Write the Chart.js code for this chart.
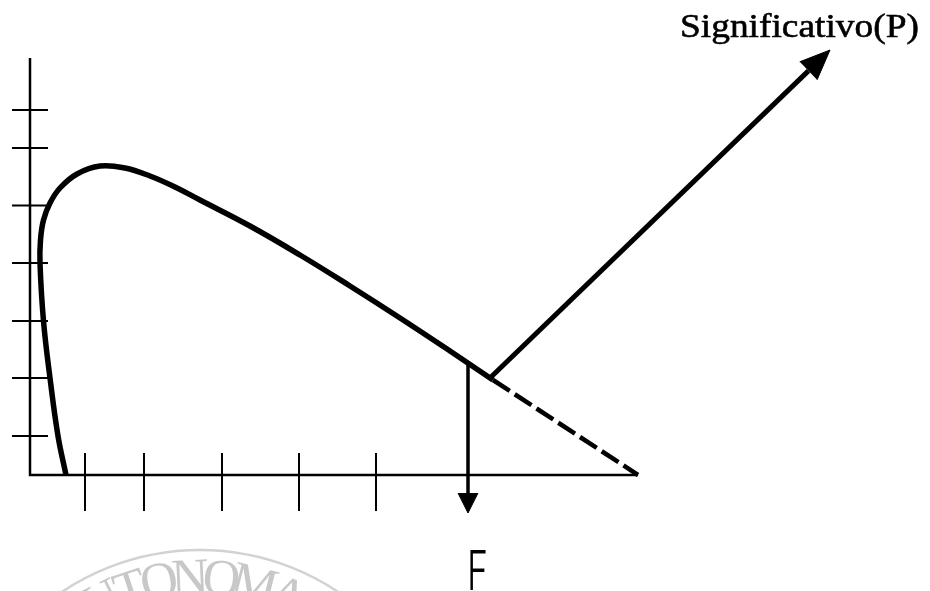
<!DOCTYPE html>
<html>
<head>
<meta charset="utf-8">
<script src="https://cdn.jsdelivr.net/npm/chart.js@4.4.1/dist/chart.umd.min.js"></script>
<style>
  html, body { margin: 0; padding: 0; background: #fff; }
  #wrap { width: 930px; height: 591px; position: relative; }
</style>
</head>
<body>
<div id="wrap"><canvas id="chart"></canvas></div>
<script>
// units: 1 unit = 10 px, origin where the two axes meet
const curveX = [3.6, 2.8, 2.0, 1.35, 1.0, 1.05, 1.35, 2.0, 3.0, 4.7, 7.0, 9.5, 12.0, 14.5, 17.0, 22.0, 27.0, 32.0, 37.0, 42.0, 46.3];
const curveY = [0, 3.9, 9.7, 15.4, 21.2, 23.5, 25.5, 27.2, 28.7, 30.1, 30.9, 30.7, 29.9, 28.8, 27.5, 24.9, 22.0, 18.9, 15.7, 12.4, 9.5];
const tailX = [46.3, 60.8];
const tailY = [9.5, 0];
const yTicks = [3.9, 9.7, 15.4, 21.2, 26.95, 32.7, 36.5];
const xTicks = [5.5, 11.4, 19.2, 26.9, 34.6];
const yAxisTop = 41.7;
const xAxisEnd = 60.8;
const fCritical = 43.8;       // x where the F arrow drops
const fArrowY = [11.3, -3.8]; // from the curve down to the tip
const pArrowFrom = [46.0, 9.7];
const pArrowTo = [80.0, 42.5];
const pLabel = 'Significativo(P)';
const pLabelAt = [65.0, 43.8];
const fLabel = 'F';
const fLabelAt = [43.7, -11.5];
const sealText = 'UTONOMA';
const sealAngles = [-26.5, -18.4, -10.7, -2.6, 5.6, 14.3, 23.5];

const ink = '#000';

const pts = (xs, ys) => xs.map((x, i) => ({ x, y: ys[i] }));

const line = (data, width, extra) => Object.assign({
  data,
  showLine: true,
  borderColor: ink,
  borderWidth: width,
  pointRadius: 0,
  fill: false,
  tension: 0
}, extra || {});

// triangle head, tip at `to`, pointing away from `from`
function head(from, to, len, half) {
  const dx = to[0] - from[0], dy = to[1] - from[1];
  const d = Math.hypot(dx, dy);
  const ux = dx / d, uy = dy / d;
  const bx = to[0] - ux * len, by = to[1] - uy * len;
  return {
    base: [bx, by],
    shape: [
      { x: bx - uy * half, y: by + ux * half },
      { x: to[0], y: to[1] },
      { x: bx + uy * half, y: by - ux * half }
    ]
  };
}

const fHead = head([fCritical, fArrowY[0]], [fCritical, fArrowY[1]], 2.0, 1.0);
const pHead = head(pArrowFrom, pArrowTo, 3.0, 1.25);
const headStyle = { backgroundColor: ink, fill: 'shape', borderWidth: 1 };

const datasets = [
  line([{ x: 0, y: yAxisTop }, { x: 0, y: 0 }, { x: xAxisEnd, y: 0 }], 2.5),
  ...yTicks.map(v => line([{ x: -1.8, y: v }, { x: 1.8, y: v }], 2)),
  ...xTicks.map(v => line([{ x: v, y: 2.2 }, { x: v, y: -3.6 }], 2)),
  line(pts(curveX, curveY), 5.5, { tension: 0.4 }),
  line(pts(tailX, tailY), 4.5, { borderDash: [20, 6] }),
  line([{ x: fCritical, y: fArrowY[0] }, { x: fHead.base[0], y: fHead.base[1] }], 3.5),
  line(fHead.shape, 1, headStyle),
  line([{ x: pArrowFrom[0], y: pArrowFrom[1] }, { x: pHead.base[0], y: pHead.base[1] }], 5),
  line(pHead.shape, 1, headStyle)
];

const textPlugin = {
  id: 'texts',
  beforeDatasetsDraw(chart) {
    // faint seal stamp at the bottom
    const { ctx } = chart;
    const cx = 200, cy = 798;
    ctx.save();
    ctx.strokeStyle = '#d2d2d2';
    ctx.fillStyle = '#c8c8c8';
    ctx.lineWidth = 2.5;
    ctx.beginPath();
    ctx.arc(cx, cy, 248, 0, Math.PI * 2);
    ctx.stroke();
    ctx.font = '52px "Liberation Serif", serif';
    ctx.textAlign = 'center';
    ctx.textBaseline = 'alphabetic';
    sealText.split('').forEach((ch, i) => {
      ctx.save();
      ctx.translate(cx, cy);
      ctx.rotate(sealAngles[i] * Math.PI / 180);
      ctx.fillText(ch, 0, -204);
      ctx.restore();
    });
    ctx.restore();
  },
  afterDatasetsDraw(chart) {
    const { ctx, scales: { x, y } } = chart;
    ctx.save();
    ctx.fillStyle = ink;
    ctx.strokeStyle = ink;
    ctx.textAlign = 'left';
    ctx.textBaseline = 'alphabetic';

    ctx.save();
    ctx.translate(x.getPixelForValue(pLabelAt[0]), y.getPixelForValue(pLabelAt[1]));
    ctx.scale(1.1, 1);
    ctx.font = '34px "Liberation Serif", "Times New Roman", serif';
    ctx.lineWidth = 0.6;
    ctx.fillText(pLabel, 0, 0);
    ctx.strokeText(pLabel, 0, 0);
    ctx.restore();

    ctx.save();
    ctx.translate(x.getPixelForValue(fLabelAt[0]), y.getPixelForValue(fLabelAt[1]));
    ctx.scale(0.65, 1);
    ctx.font = '300 55px Inter, "DejaVu Sans", sans-serif';
    ctx.fillText(fLabel, 0, 0);
    ctx.restore();

    ctx.restore();
  }
};

new Chart(document.getElementById('chart'), {
  type: 'scatter',
  data: { datasets },
  options: {
    responsive: true,
    maintainAspectRatio: false,
    animation: false,
    layout: { padding: 0 },
    plugins: {
      legend: { display: false },
      tooltip: { enabled: false }
    },
    scales: {
      x: { type: 'linear', min: -3, max: 90, display: false },
      y: { type: 'linear', min: -11.6, max: 47.5, display: false }
    }
  },
  plugins: [textPlugin]
});
</script>
</body>
</html>
